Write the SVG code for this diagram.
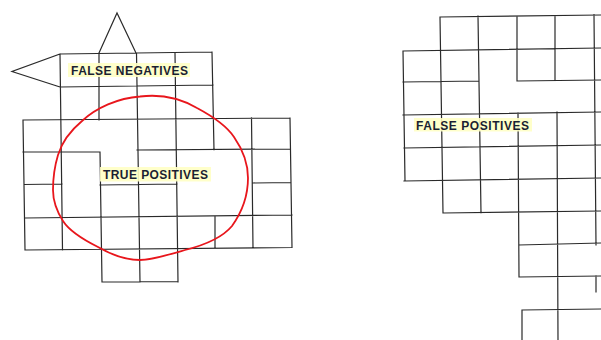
<svg xmlns="http://www.w3.org/2000/svg" width="601" height="340" viewBox="0 0 601 340">
<style>
.grid{fill:none;stroke:#2a2a2a;stroke-width:1.2;stroke-linecap:square}
.ring{fill:none;stroke:#e8161c;stroke-width:1.8;stroke-linejoin:round;stroke-linecap:round}
.hl{fill:#ffffc4;opacity:0.9}
.lbl{font-family:"Liberation Sans",Arial,sans-serif;font-weight:bold;fill:#1b1f33}
</style>
<rect width="601" height="340" fill="#ffffff"/>
<g id="left-grid">
<path class="grid" d="M99,53 L117,13 L136,53 M60,54 L12,71.5 L60,87
M60,54 L212,52 M60,87 L213,85 M23,120 L290,118 M23,152 L100,152 M137,150 L290,149
M24,184.5 L62,184 M100,185 L177,184 M253,183 L291,182.5 M25,218 L292,215 M25,250 L292,247.5 M102,282 L178,281.5
M60,54 L62.5,250 M99,53 L99,120 M136.5,53 L140,282 M175,53 L178,282 M212,52 L214,150
M23,120 L25,250 M100,152 L102,282 M215,216 L215,248 M251.5,118 L253,248 M290,118 L292,247.5"/>
</g>
<g id="right-grid">
<path class="grid" d="M440,17 L601,15 M403,51 L601,48 M403,82 L479,81 M517,81 L601,80 M403,115 L601,112
M404,148 L601,145 M404,181 L601,178 M443,213 L601,211 M519,245 L601,243 M519,277 L601,276 M522,310 L601,309
M440,17 L443,213 M403,51 L405,181 M478,16 L481,213 M517,16 L517,81 M518,113 L519,277 M555,16 L555,80
M557,112 L558,340 M594,15 L596,245 M596,276 L596,292 M522,310 L522,340"/>
</g>
<g id="true-positive-ring">
<path class="ring" d="M140,96.5 C160,94 180,98 197,108 C212,116 226,125 234,137 C243,150 248,165 248,178 C248,196 242,212 232,226 C222,238 205,245 185,250 C168,255 152,260 140,260 C125,260 110,254 98,247 C84,240 70,232 63,221 C56,210 53,200 53,190 C53,180 55,165 58,155 C62,142 70,131 82,121 C96,108 118,98 140,96.5 Z"/>
</g>
<g id="label-false-negatives">
<rect class="hl" x="68" y="63" width="122" height="14"/>
<text class="lbl" x="71" y="74.5" font-size="12" textLength="117" lengthAdjust="spacing">FALSE NEGATIVES</text>
</g>
<g id="label-true-positives">
<rect class="hl" x="100" y="167" width="111" height="14.5"/>
<text class="lbl" x="103" y="179" font-size="12" textLength="105" lengthAdjust="spacing">TRUE POSITIVES</text>
</g>
<g id="label-false-positives">
<rect class="hl" x="414" y="118" width="118" height="13.5"/>
<text class="lbl" x="416" y="129.5" font-size="12" textLength="113" lengthAdjust="spacing">FALSE POSITIVES</text>
</g>
</svg>
